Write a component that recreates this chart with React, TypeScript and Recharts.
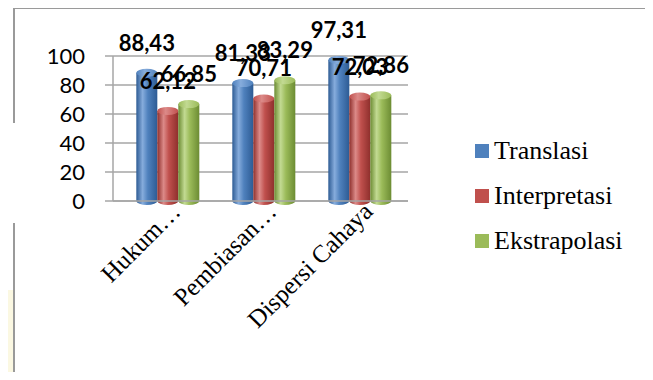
import { Bar, BarChart, CartesianGrid, LabelList, Legend, XAxis, YAxis } from "recharts";

const categories = ["Hukum…", "Pembiasan…", "Dispersi Cahaya"];
const translasi = [88.43, 81.33, 97.31];
const interpretasi = [62.12, 70.71, 72.03];
const ekstrapolasi = [66.85, 83.29, 72.86];
const yTicks = [0, 20, 40, 60, 80, 100];

const series = [
  { key: "translasi", name: "Translasi", color: "#4f81bd", light: "#86acdc", dark: "#2d5b94" },
  { key: "interpretasi", name: "Interpretasi", color: "#c0504d", light: "#dc8a88", dark: "#8e2f2c" },
  { key: "ekstrapolasi", name: "Ekstrapolasi", color: "#9bbb59", light: "#c2da92", dark: "#6c8c33" },
];

const data = categories.map((name, i) => ({
  name,
  translasi: translasi[i],
  interpretasi: interpretasi[i],
  ekstrapolasi: ekstrapolasi[i],
}));

const fmt = (v: any) => Number(v).toFixed(2).replace(".", ",");

function Cylinder(props: any) {
  const { x, y, width, height, fill } = props;
  if (!width || !height) return null;
  const s = series.find(s => s.color === fill) || series[0];
  const rx = width / 2;
  const ry = 4;
  const bottom = y + height;
  return (
    <g>
      <path
        d={`M${x},${y} L${x},${bottom} A${rx},${ry} 0 0 0 ${x + width},${bottom} L${x + width},${y} Z`}
        fill={`url(#cyl-${s.key})`}
      />
      <ellipse cx={x + rx} cy={y} rx={rx} ry={ry} fill={`url(#top-${s.key})`} />
    </g>
  );
}

function CatTick({ x, y, payload }: any) {
  const tx = x + 14;
  const ty = y + 12;
  return (
    <text
      x={tx}
      y={ty}
      transform={`rotate(-45 ${tx} ${ty})`}
      textAnchor="end"
      fontFamily="'Liberation Serif', 'Times New Roman', serif"
      fontSize={25}
      fill="#000"
    >
      {payload.value}
    </text>
  );
}

function LegendContent({ payload }: any) {
  // keep the series order (Translasi first)
  const items = [...(payload || [])].sort(
    (a: any, b: any) =>
      series.findIndex(s => s.name === a.value) - series.findIndex(s => s.name === b.value)
  );
  return (
    <div>
      {items.map((entry: any) => (
        <div key={entry.value} style={{ display: "flex", alignItems: "center", height: 45 }}>
          <span style={{ width: 14, height: 14, background: entry.color, marginRight: 5 }} />
          <span style={{ fontFamily: "'Liberation Serif', serif", fontSize: 26, color: "#000" }}>
            {entry.value}
          </span>
        </div>
      ))}
    </div>
  );
}

export default function App() {
  return (
    <div style={{ position: "relative", width: 653, height: 380, margin: -8, background: "#fff", overflow: "hidden" }}>
      <div style={{ position: "absolute", left: 0, top: 290, width: 13, height: 90, background: "#fbf8e2" }} />
      <BarChart
        width={653}
        height={380}
        data={data}
        margin={{ top: 56, right: 245, left: 53, bottom: 0 }}
        barCategoryGap="17%"
        barGap={0}
      >
        <defs>
          {series.map(s => (
            <linearGradient key={s.key} id={`cyl-${s.key}`} x1="0" y1="0" x2="1" y2="0">
              <stop offset="0%" stopColor={s.dark} />
              <stop offset="30%" stopColor={s.light} />
              <stop offset="55%" stopColor={s.color} />
              <stop offset="100%" stopColor={s.dark} />
            </linearGradient>
          ))}
          {series.map(s => (
            <linearGradient key={s.key + "t"} id={`top-${s.key}`} x1="0" y1="0" x2="1" y2="0">
              <stop offset="0%" stopColor={s.color} />
              <stop offset="40%" stopColor={s.light} />
              <stop offset="100%" stopColor={s.color} />
            </linearGradient>
          ))}
        </defs>
        <CartesianGrid vertical={false} stroke="#a6a6a6" strokeWidth={1.5} />
        <XAxis
          dataKey="name"
          height={179}
          padding={{ left: 7, right: 0 }}
          tickLine={false}
          tickSize={0}
          tickMargin={0}
          interval={0}
          axisLine={{ stroke: "#a6a6a6", strokeWidth: 1.5 }}
          tick={<CatTick />}
        />
        <YAxis
          width={60}
          domain={[0, 100]}
          ticks={yTicks}
          interval={0}
          tickSize={8}
          tickMargin={20}
          axisLine={{ stroke: "#a6a6a6", strokeWidth: 1.5 }}
          tickLine={{ stroke: "#a6a6a6", strokeWidth: 1.5 }}
          tick={{ fill: "#000", fontFamily: "Lato", fontSize: 22 }}
        />
        <Legend
          layout="vertical"
          align="center"
          verticalAlign="middle"
          wrapperStyle={{ left: 475, top: 128, width: 178 }}
          content={<LegendContent />}
        />
        {series.map(s => (
          <Bar
            key={s.key}
            dataKey={s.key}
            name={s.name}
            fill={s.color}
            shape={<Cylinder />}
            isAnimationActive={false}
          >
            <LabelList
              dataKey={s.key}
              position="top"
              offset={22}
              formatter={fmt}
              style={{ fill: "#000", fontFamily: "Lato", fontWeight: 700, fontSize: 22 }}
            />
          </Bar>
        ))}
      </BarChart>
      <div style={{ position: "absolute", left: 14, top: 7, right: 0, height: 2, background: "#9a9a9a" }} />
      <div style={{ position: "absolute", left: 13, top: 7, width: 2, height: 116, background: "#9a9a9a" }} />
      <div style={{ position: "absolute", left: 13, top: 223, width: 2, height: 157, background: "#9a9a9a" }} />
    </div>
  );
}
